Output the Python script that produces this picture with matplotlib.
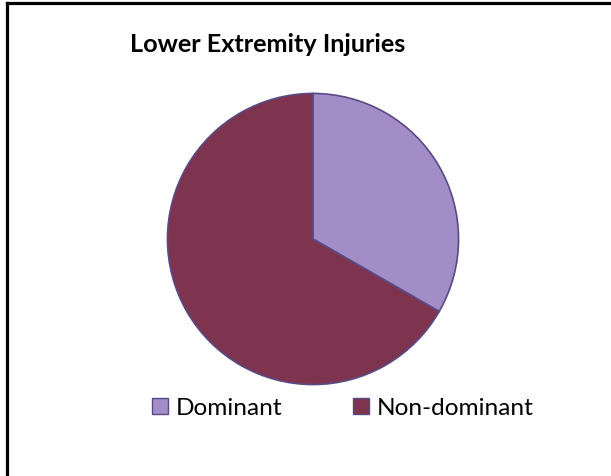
import matplotlib
matplotlib.use("Agg")
import matplotlib.pyplot as plt
from matplotlib.lines import Line2D
from matplotlib.patches import Patch

labels = ["Dominant", "Non-dominant"]
values = [33.3, 66.7]
colors = ["#A28DC6", "#7E344E"]
edge = "#594A86"
title = "Lower Extremity Injuries"

W, H = 611, 477
fig = plt.figure(figsize=(W / 100, H / 100), dpi=100)
fig.patch.set_facecolor("white")

# pie axes: center (313, 240) px from top-left, radius 147 px
cx, cy, r = 313, 240, 147
ax = fig.add_axes([(cx - r) / W, (H - cy - r) / H, 2 * r / W, 2 * r / H])
ax.pie(values, colors=colors, startangle=90, counterclock=False,
       wedgeprops=dict(edgecolor=edge, linewidth=1.2), radius=1.0)
ax.set_xlim(-1.01, 1.01)
ax.set_ylim(-1.01, 1.01)
ax.axis("off")

fig.text(267.5 / W, 1 - 44 / H, title, ha="center", va="center",
         fontsize=18.2, fontweight="bold", family=["Lato", "DejaVu Sans"])

# border (left and top)
fig.add_artist(Line2D([7.5 / W, 7.5 / W], [1 - 4 / H, 1 - 476 / H],
                      transform=fig.transFigure, color="black", linewidth=2.3,
                      solid_capstyle="projecting"))
fig.add_artist(Line2D([7.5 / W, 1.0], [1 - 4 / H, 1 - 4 / H],
                      transform=fig.transFigure, color="black", linewidth=2.3,
                      solid_capstyle="projecting"))

handles = [Patch(facecolor=c, edgecolor=edge, linewidth=1.0) for c in colors]
fig.legend(handles, labels, loc="center", bbox_to_anchor=(342.5 / W, 1 - 409 / H),
           ncol=2, frameon=False, prop=dict(family=["Lato", "DejaVu Sans"], size=17.6),
           handlelength=0.66, handleheight=0.66, handletextpad=0.3, columnspacing=2.9,
           borderpad=0, borderaxespad=0)

fig.savefig("out.png", dpi=100)
